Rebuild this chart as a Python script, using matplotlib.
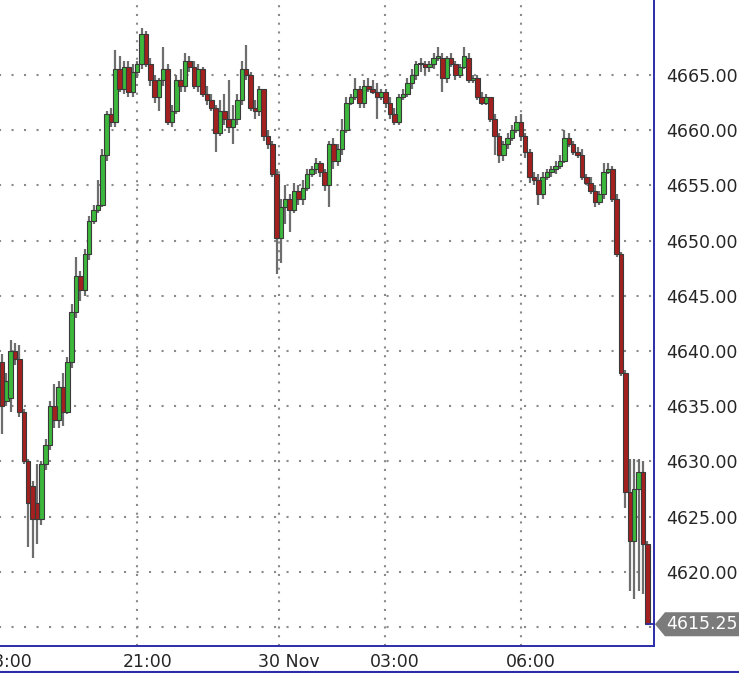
import matplotlib
matplotlib.use("Agg")
import matplotlib.pyplot as plt  # noqa: E402
import matplotlib.transforms as mtransforms  # noqa: E402
from matplotlib.lines import Line2D  # noqa: E402
from matplotlib.patches import Polygon  # noqa: E402
import numpy as np  # noqa: E402

# OHLC per bar
opens = [
    4639.0, 4635.5, 4635.75, 4640.0, 4639.25, 4634.5, 4630.0, 4627.75, 4626.25, 4624.75,
    4629.75, 4631.5, 4635.0, 4633.75, 4636.75, 4634.5, 4639.0, 4643.5, 4646.75, 4645.5,
    4648.75, 4651.75, 4652.75, 4653.25, 4657.75, 4661.5, 4660.75, 4665.5, 4663.75, 4665.75,
    4663.5, 4665.25, 4666.0, 4668.75, 4666.0, 4664.5, 4663.0, 4664.5, 4665.5, 4660.75,
    4661.75, 4664.5, 4664.0, 4666.25, 4665.75, 4664.0, 4665.5, 4663.25, 4662.75, 4662.0,
    4659.75, 4661.75, 4661.0, 4660.25, 4661.0, 4662.75, 4665.5, 4665.0, 4662.0, 4661.75,
    4663.75, 4659.5, 4658.75, 4656.0, 4650.25, 4653.0, 4653.75, 4652.75, 4654.5, 4653.75,
    4654.75, 4656.0, 4656.5, 4657.0, 4656.25, 4655.0, 4658.75, 4657.25, 4658.25, 4660.0,
    4662.5, 4663.0, 4663.75, 4662.5, 4664.0, 4663.75, 4663.5, 4663.0, 4663.5, 4662.5,
    4661.5, 4660.75, 4663.0, 4663.25, 4664.25, 4665.0, 4666.0, 4666.0, 4665.75, 4666.0,
    4666.5, 4666.5, 4664.75, 4666.5, 4666.0, 4665.0, 4665.75, 4666.5, 4664.5, 4664.75,
    4663.0, 4662.5, 4663.0, 4661.0, 4659.5, 4657.75, 4658.75, 4659.25, 4660.0, 4660.75,
    4659.5, 4658.0, 4655.75, 4655.5, 4654.25, 4655.75, 4656.25, 4656.5, 4656.75, 4657.25,
    4659.25, 4658.75, 4658.0, 4657.75, 4655.75, 4655.25, 4654.5, 4653.5, 4654.25, 4656.25,
    4656.5, 4653.75, 4648.75, 4638.0, 4627.25, 4622.75, 4627.5, 4629.0, 4622.5,
]
closes = [
    4635.0, 4637.25, 4640.0, 4639.25, 4634.5, 4630.0, 4626.25, 4624.75, 4624.75, 4629.75,
    4631.5, 4635.0, 4633.75, 4636.75, 4634.5, 4639.0, 4643.5, 4646.75, 4645.5, 4648.75,
    4651.75, 4652.75, 4653.25, 4657.75, 4661.5, 4660.75, 4665.5, 4663.75, 4665.75, 4663.5,
    4665.25, 4666.0, 4668.75, 4666.0, 4664.5, 4663.0, 4664.5, 4665.5, 4660.75, 4661.75,
    4664.5, 4664.0, 4666.25, 4665.75, 4664.0, 4665.5, 4663.25, 4662.75, 4662.0, 4659.75,
    4661.75, 4661.0, 4660.25, 4661.0, 4662.75, 4665.5, 4665.0, 4662.0, 4661.75, 4663.75,
    4659.5, 4658.75, 4656.0, 4650.25, 4653.0, 4653.75, 4652.75, 4654.5, 4653.75, 4654.75,
    4656.0, 4656.5, 4657.0, 4656.25, 4655.0, 4658.75, 4657.25, 4658.25, 4660.0, 4662.5,
    4663.0, 4663.75, 4662.5, 4664.0, 4663.75, 4663.5, 4663.0, 4663.5, 4662.5, 4661.5,
    4660.75, 4663.0, 4663.25, 4664.25, 4665.0, 4666.0, 4666.0, 4665.75, 4666.0, 4666.5,
    4666.75, 4664.75, 4666.5, 4666.0, 4665.0, 4665.75, 4666.75, 4664.5, 4664.75, 4663.0,
    4662.5, 4663.0, 4661.0, 4659.5, 4657.75, 4658.75, 4659.25, 4660.0, 4660.75, 4659.5,
    4658.0, 4655.75, 4655.5, 4654.25, 4655.75, 4656.25, 4656.5, 4656.75, 4657.25, 4659.25,
    4658.75, 4658.0, 4657.75, 4655.75, 4655.25, 4654.5, 4653.5, 4654.25, 4656.25, 4656.5,
    4653.75, 4648.75, 4638.0, 4627.25, 4622.75, 4627.5, 4629.0, 4622.5, 4615.25,
]
highs = [
    4639.75, 4638.0, 4641.0, 4640.75, 4640.5, 4634.75, 4630.25, 4628.25, 4629.75, 4630.0,
    4632.0, 4635.5, 4637.0, 4637.25, 4638.0, 4639.5, 4644.25, 4648.5, 4647.25, 4649.25,
    4652.25, 4653.25, 4655.5, 4658.25, 4661.75, 4662.0, 4667.25, 4666.75, 4666.25, 4666.25,
    4666.0, 4666.25, 4669.25, 4669.0, 4666.5, 4665.0, 4664.75, 4667.5, 4666.0, 4662.25,
    4665.0, 4665.5, 4667.0, 4666.75, 4666.25, 4666.0, 4665.75, 4664.0, 4663.25, 4662.25,
    4662.75, 4663.25, 4664.5, 4662.25, 4663.25, 4666.25, 4667.75, 4665.25, 4662.75, 4664.0,
    4663.75, 4660.0, 4659.0, 4656.5, 4653.75, 4655.0, 4654.25, 4655.25, 4655.0, 4655.5,
    4656.5, 4656.75, 4657.5, 4657.25, 4656.5, 4659.0, 4659.25, 4658.75, 4661.0, 4663.0,
    4663.25, 4664.75, 4664.0, 4664.5, 4664.75, 4664.5, 4664.25, 4663.75, 4663.75, 4663.0,
    4662.0, 4663.25, 4663.75, 4664.75, 4665.5, 4666.25, 4666.5, 4666.25, 4666.25, 4667.0,
    4667.5, 4667.0, 4666.75, 4667.0, 4666.25, 4666.0, 4667.5, 4667.0, 4665.0, 4665.0,
    4663.5, 4663.25, 4663.0, 4661.5, 4659.75, 4659.0, 4659.75, 4660.5, 4661.25, 4661.5,
    4659.75, 4658.25, 4656.25, 4656.0, 4656.25, 4656.5, 4656.75, 4657.25, 4657.75, 4660.0,
    4659.75, 4659.0, 4658.5, 4658.25, 4656.0, 4655.75, 4655.0, 4654.5, 4657.0, 4657.0,
    4656.75, 4654.25, 4649.0, 4638.25, 4630.25, 4630.25, 4630.25, 4630.0, 4622.75,
]
lows = [
    4632.5, 4635.0, 4634.5, 4638.75, 4634.0, 4629.75, 4622.25, 4621.25, 4622.5, 4624.25,
    4629.25, 4631.0, 4633.0, 4633.0, 4633.25, 4634.25, 4638.5, 4643.0, 4644.5, 4645.0,
    4648.25, 4651.5, 4652.5, 4653.0, 4657.25, 4660.25, 4660.25, 4663.5, 4663.25, 4663.0,
    4663.0, 4664.75, 4665.5, 4665.75, 4664.0, 4662.5, 4661.75, 4664.0, 4660.5, 4660.25,
    4661.5, 4663.5, 4663.5, 4665.25, 4663.75, 4663.5, 4663.0, 4662.25, 4661.75, 4658.0,
    4659.5, 4660.5, 4659.75, 4658.75, 4660.5, 4662.25, 4664.5, 4661.75, 4661.0, 4661.25,
    4659.0, 4658.25, 4655.75, 4647.0, 4648.0, 4651.5, 4650.75, 4652.5, 4653.25, 4653.25,
    4654.5, 4655.75, 4656.0, 4655.75, 4654.5, 4653.0, 4656.5, 4656.75, 4657.75, 4659.75,
    4662.25, 4662.75, 4662.0, 4662.0, 4663.5, 4663.25, 4661.0, 4662.75, 4662.0, 4661.0,
    4660.5, 4660.5, 4662.75, 4663.0, 4663.75, 4664.5, 4665.25, 4665.0, 4665.25, 4665.5,
    4666.25, 4663.5, 4664.25, 4665.75, 4664.5, 4664.75, 4665.5, 4664.25, 4664.25, 4662.75,
    4662.25, 4662.25, 4660.75, 4657.75, 4657.0, 4657.25, 4658.25, 4659.0, 4659.75, 4659.0,
    4657.5, 4655.25, 4655.0, 4653.25, 4653.75, 4655.5, 4655.75, 4656.0, 4656.5, 4657.0,
    4658.5, 4657.75, 4657.5, 4655.5, 4655.0, 4654.25, 4653.0, 4653.25, 4653.75, 4656.0,
    4653.5, 4648.5, 4637.75, 4625.75, 4618.25, 4617.5, 4618.25, 4618.0, 4615.25,
]

# session labels and the bar index where each one falls
time_labels = ["18:00", "21:00", "30 Nov", "03:00", "06:00"]
time_label_bars = [-1.1, 31.0, 63.5, 87.8, 119.0]
price_ticks = [4615.0, 4620.0, 4625.0, 4630.0, 4635.0, 4640.0, 4645.0, 4650.0, 4655.0, 4660.0, 4665.0]

UP = "#3cb83c"
DOWN = "#a3201f"
EDGE = "#3a3a3a"
WICK = "#6e6e6e"
BLUE = "#2c2ca8"
GRID = "#8a8a8a"
TEXT = "#262626"

W, H, DPI = 739, 673, 100
PITCH = 4.36  # px per bar

o = np.array(opens)
c = np.array(closes)
hi = np.array(highs)
lo = np.array(lows)
x = np.arange(len(o))
up = c >= o

fig = plt.figure(figsize=(W / DPI, H / DPI), dpi=DPI, facecolor="white")
ax = fig.add_axes([-10 / W, 27 / H, 664 / W, 646 / H])
ax.set_facecolor("white")

ax.vlines(x, lo, hi, color=WICK, linewidth=1.6, zorder=2)
body_low = np.minimum(o, c)
body_h = np.maximum(np.abs(c - o), 0.1)
ax.bar(x[up], body_h[up], bottom=body_low[up], width=1.05, color=UP,
       edgecolor=EDGE, linewidth=0.8, zorder=3)
ax.bar(x[~up], body_h[~up], bottom=body_low[~up], width=1.05, color=DOWN,
       edgecolor=EDGE, linewidth=0.8, zorder=3)

xmin, xmax = -12 / PITCH, 652 / PITCH
ax.set_xlim(xmin, xmax)
ax.set_ylim(4613.28, 4671.79)

# last price connector to the axis
ax.plot([x[-1], xmax], [c[-1], c[-1]], color=BLUE, linewidth=1.3, clip_on=False, zorder=4)

ax.set_axisbelow(True)
ax.yaxis.grid(True, color=GRID, linestyle=(0, (1, 5)), linewidth=1.5)
ax.xaxis.grid(True, color=GRID, linestyle=(0, (1, 3.2)), linewidth=1.5)

for side in ("top", "left"):
    ax.spines[side].set_visible(False)
for side in ("right", "bottom"):
    ax.spines[side].set_color(BLUE)
    ax.spines[side].set_linewidth(1.4)

ax.yaxis.tick_right()
ax.set_yticks(price_ticks)
ax.set_yticklabels(["" if v == 4615.0 else f"{v:.2f}" for v in price_ticks])
ax.tick_params(axis="y", length=0, pad=9, labelsize=12.5, labelcolor=TEXT)

ax.set_xticks(time_label_bars)
ax.set_xticklabels(time_labels)
ax.tick_params(axis="x", length=0, pad=5, labelsize=12.5, labelcolor=TEXT)
shift = mtransforms.ScaledTranslation(0.10, 0, fig.dpi_scale_trans)
for lab in ax.get_xticklabels():
    lab.set_transform(lab.get_transform() + shift)

# last price tag
tag_y = ax.transData.transform((0, c[-1]))[1]
ty = tag_y / H
h2 = 12 / H
tag = Polygon([(655 / W, ty), (665 / W, ty + h2), (1.0, ty + h2), (1.0, ty - h2), (665 / W, ty - h2)],
              closed=True, transform=fig.transFigure, facecolor="#7b7b7b", edgecolor="none")
fig.add_artist(tag)
fig.text(666 / W, ty, f"{c[-1]:.2f}", color="white", fontsize=12.5, ha="left", va="center")

fig.add_artist(Line2D([0, 1], [1 / H, 1 / H], transform=fig.transFigure, color=BLUE, linewidth=1.5))

fig.savefig("out.png", dpi=DPI, facecolor="white")
